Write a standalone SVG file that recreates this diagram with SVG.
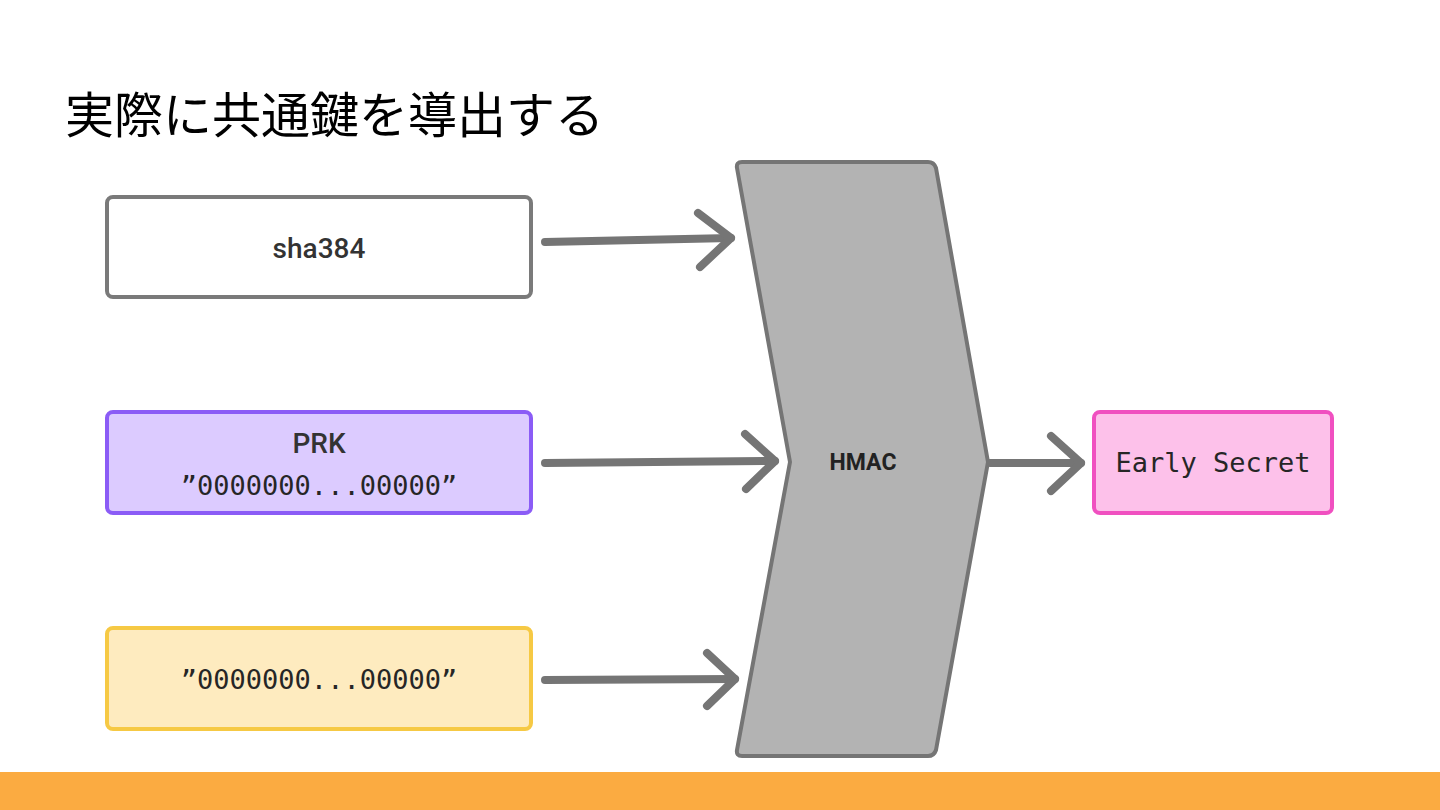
<svg xmlns="http://www.w3.org/2000/svg" width="1440" height="810" viewBox="0 0 1440 810">
<style>
.box{stroke-width:4;}
.lbl{font-family:Roboto,Inter,"Liberation Sans",sans-serif;font-size:28px;font-weight:500;fill:#333;text-anchor:middle;}
.mono{font-family:"DejaVu Sans Mono","Liberation Mono",monospace;font-size:27px;fill:#262626;text-anchor:middle;}
.conn path{fill:none;stroke:#757575;stroke-width:8;stroke-linecap:round;stroke-linejoin:round;}
</style>
<rect x="0" y="0" width="1440" height="810" fill="#ffffff"/>
<text x="65" y="133" font-family="'Noto Sans CJK JP',sans-serif" font-size="49" fill="#000">実際に共通鍵を導出する</text>
<g id="sha384">
<rect class="box" x="107" y="197" width="424" height="100" rx="6" fill="#ffffff" stroke="#7a7a7a"/>
<text class="lbl" x="319" y="258">sha384</text>
</g>
<g id="prk">
<rect class="box" x="107" y="412" width="424" height="101" rx="6" fill="#dccbff" stroke="#8b5cf6"/>
<text class="lbl" x="319" y="453">PRK</text>
<text class="mono" x="319" y="495">”0000000...00000”</text>
</g>
<g id="salt">
<rect class="box" x="107" y="628" width="424" height="101" rx="6" fill="#feebbf" stroke="#f6c944"/>
<text class="mono" x="319" y="689">”0000000...00000”</text>
</g>
<g id="hmac">
<path d="M742 162 L928 162 Q934 162 936 168 L988 462 L936 750 Q934 756 928 756 L742 756 Q736 756 737 750 L790 462 L737 168 Q736 162 742 162 Z" fill="#b3b3b3" stroke="#757575" stroke-width="4" stroke-linejoin="round"/>
<text x="863" y="470" font-family="Roboto,Inter,'Liberation Sans',sans-serif" font-size="23" font-weight="bold" fill="#222" text-anchor="middle">HMAC</text>
</g>
<g id="early-secret">
<rect class="box" x="1094" y="412" width="238" height="101" rx="6" fill="#fdc1ea" stroke="#f050c0"/>
<text class="mono" x="1213" y="472">Early Secret</text>
</g>
<g class="conn" id="connectors">
<path d="M545 242 L731 238"/>
<path d="M698 213 L731 238 L700 267"/>
<path d="M545 463 L775 461"/>
<path d="M745 434 L775 461 L746 489"/>
<path d="M545 680 L735 679"/>
<path d="M707 653 L735 679 L707 706"/>
<path d="M990 463 L1081 463"/>
<path d="M1051 436 L1081 463 L1051 491"/>
</g>
<rect x="0" y="772" width="1440" height="38" fill="#fbab41"/>
</svg>
